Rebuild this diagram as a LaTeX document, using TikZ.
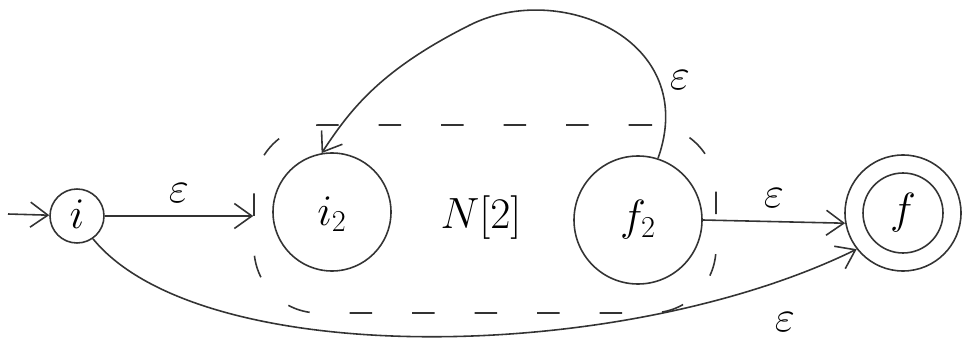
\documentclass[tikz,border=0pt]{standalone}
\usetikzlibrary{arrows.meta}
\begin{document}
\begin{tikzpicture}[x=0.02cm,y=-0.02cm,
  line width=0.9pt, draw=black!80,
  state/.style={draw, circle, inner sep=0pt},
  edge/.style={draw, -{Straight Barb[length=3.5mm,width=5mm]}},
  lbl/.style={font=\fontsize{24}{28}\selectfont},
  box/.style={draw, dashed, dash pattern=on 0.45cm off 0.8cm, rounded corners=1.3cm}]
\useasboundingbox (0,0) rectangle (970,358);
\node[state, minimum size=54*0.02cm] (i) at (77,216) {};
\node[lbl] at (77,214) {$i$};
\node[state, minimum size=118*0.02cm] (i2) at (332,212) {};
\node[lbl] at (332,214) {$i_2$};
\node[state, minimum size=128*0.02cm] (f2) at (638,220) {};
\node[lbl] at (638,220) {$f_2$};
\node[lbl] (N) at (481,218) {$N[2]$};
\node[state, minimum size=116*0.02cm] (f) at (903,213) {};
\node[state, minimum size=80*0.02cm] (fin) at (903,213) {};
\node[lbl] at (903,213) {$f$};
\node[box, minimum width=462*0.02cm, minimum height=188*0.02cm] (box) at (485,219) {};
\coordinate (start) at (8,214);
\draw[edge] (start) -- (i);
\draw[edge] (i) -- node[lbl, above=4pt] {$\varepsilon$} (box.west |- i);
\draw[edge] (f2.east) -- node[lbl, above=4pt] {$\varepsilon$} (f.190);
\draw[edge] (i.-55) .. controls (200,370) and (620,365) .. (f.218);
\node[lbl] at (785,322) {$\varepsilon$};
\draw[edge] (f2.72) .. controls (700,40) and (560,-20) .. (470,25) .. controls (380,70) and (350,110) .. (i2.100);
\node[lbl] at (680,80) {$\varepsilon$};
\end{tikzpicture}
\end{document}
